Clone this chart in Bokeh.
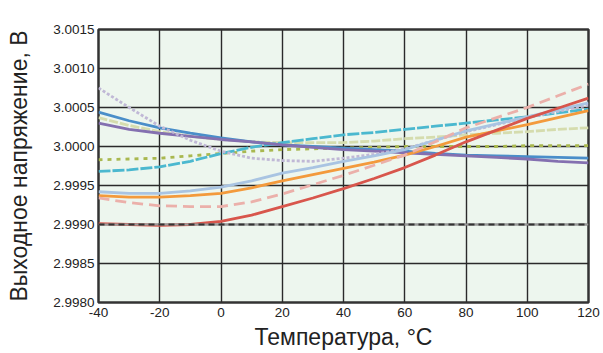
from bokeh.plotting import figure
from bokeh.models import FixedTicker, PrintfTickFormatter, Range1d, Span
from bokeh.embed import file_html
from bokeh.resources import INLINE

temps = [-40, -30, -20, -10, 0, 10, 20, 30, 40, 50, 60, 70, 80, 90, 100, 110, 120]

red = [2.99901, 2.99900, 2.99899, 2.99900, 2.99904, 2.99912, 2.99923, 2.99934, 2.99946,
       2.99959, 2.99973, 2.99989, 3.00006, 3.00021, 3.00036, 3.00049, 3.00062]
pink = [2.99934, 2.99928, 2.99924, 2.99923, 2.99923, 2.99929, 2.99939, 2.99951, 2.99963,
        2.99976, 2.99989, 3.00006, 3.00024, 3.00037, 3.00050, 3.00065, 3.00080]
orange = [2.99937, 2.99935, 2.99935, 2.99937, 2.99940, 2.99947, 2.99956, 2.99964, 2.99972,
          2.99980, 2.99989, 3.00000, 3.00012, 3.00020, 3.00028, 3.00037, 3.00046]
lightblue = [2.99942, 2.99940, 2.99940, 2.99943, 2.99948, 2.99956, 2.99966, 2.99973, 2.99981,
             2.99988, 2.99996, 3.00008, 3.00020, 3.00029, 3.00038, 3.00047, 3.00056]
lavender = [3.00075, 3.00050, 3.00026, 3.00008, 2.99994, 2.99985, 2.99982, 2.99981, 2.99985,
            2.99990, 2.99997, 3.00008, 3.00019, 3.00028, 3.00037, 3.00045, 3.00053]
cyan = [2.99968, 2.99970, 2.99974, 2.99981, 2.99991, 2.99999, 3.00005, 3.00010, 3.00015,
        3.00018, 3.00022, 3.00026, 3.00030, 3.00034, 3.00038, 3.00043, 3.00048]
paleolive = [3.00037, 3.00027, 3.00019, 3.00013, 3.00009, 3.00006, 3.00005, 3.00005, 3.00005,
             3.00007, 3.00010, 3.00012, 3.00015, 3.00017, 3.00019, 3.00022, 3.00024]
olive = [2.99983, 2.99984, 2.99985, 2.99988, 2.99991, 2.99994, 2.99996, 2.99997, 2.99998,
         2.99999, 3.00000, 3.00000, 3.00000, 3.00000, 3.00001, 3.00001, 3.00001]
blue = [3.00044, 3.00033, 3.00024, 3.00017, 3.00011, 3.00006, 3.00002, 3.00000, 2.99998,
        2.99996, 2.99994, 2.99991, 2.99989, 2.99988, 2.99987, 2.99986, 2.99985]
purple = [3.00030, 3.00022, 3.00017, 3.00013, 3.00009, 3.00006, 3.00002, 2.99999, 2.99996,
          2.99994, 2.99992, 2.99990, 2.99988, 2.99986, 2.99984, 2.99981, 2.99979]

x_ticks = [-40, -20, 0, 20, 40, 60, 80, 100, 120]
x_tick_labels = ["-40", "-20", "0", "20", "40", "60", "80", "100", "120"]
y_ticks = [2.9980, 2.9985, 2.9990, 2.9995, 3.0000, 3.0005, 3.0010, 3.0015]
ref_level = 2.9990

x_label = "Температура, °C"
y_label = "Выходное напряжение, В"

p = figure(width=603, height=353, output_backend="svg", toolbar_location=None,
           x_range=Range1d(-40, 120), y_range=Range1d(2.9980, 3.0015),
           min_border_left=98, min_border_right=15, min_border_top=29, min_border_bottom=51)

p.background_fill_color = "#edf6ee"
p.border_fill_color = "white"
p.outline_line_color = "#333333"
p.outline_line_width = 2.5

p.xgrid.grid_line_color = "#2a2a2a"
p.ygrid.grid_line_color = "#2a2a2a"
p.xgrid.grid_line_width = 1.4
p.ygrid.grid_line_width = 1.4

p.xaxis.ticker = FixedTicker(ticks=x_ticks)
p.xaxis.major_label_overrides = dict(zip(x_ticks, x_tick_labels))
p.yaxis.ticker = FixedTicker(ticks=y_ticks)
p.yaxis.formatter = PrintfTickFormatter(format="%.4f")

for ax in (p.xaxis[0], p.yaxis[0]):
    ax.axis_line_color = None
    ax.major_tick_line_color = None
    ax.minor_tick_line_color = None
    ax.major_tick_in = 0
    ax.major_tick_out = 0
    ax.minor_tick_in = 0
    ax.minor_tick_out = 0
    ax.major_label_text_font = "Liberation Sans"
    ax.major_label_text_font_size = "13.5px"
    ax.major_label_text_color = "#222222"
    ax.axis_label_text_font = "Liberation Sans"
    ax.axis_label_text_font_size = "23px"
    ax.axis_label_text_font_style = "normal"
    ax.axis_label_text_color = "#222222"

p.xaxis.axis_label = x_label
p.yaxis.axis_label = y_label
p.xaxis.major_label_standoff = 5
p.yaxis.major_label_standoff = 4
p.xaxis.axis_label_standoff = 4
p.yaxis.axis_label_standoff = 18

p.add_layout(Span(location=ref_level, dimension="width", line_color="#9a9a9a", line_width=2))
p.add_layout(Span(location=ref_level, dimension="width", line_color="#333333", line_width=2,
                  line_dash="6 4"))

lw = 2.8
p.line(temps, olive, line_color="#a9b84f", line_width=lw, line_dash="4 5")
p.line(temps, paleolive, line_color="#d5dcae", line_width=lw, line_dash="9 2")
p.line(temps, cyan, line_color="#4bb8cf", line_width=lw, line_dash="12 2")
p.line(temps, blue, line_color="#4a8ec9", line_width=lw)
p.line(temps, purple, line_color="#8470b0", line_width=lw)
p.line(temps, lavender, line_color="#c0b8d6", line_width=lw, line_dash="3 2")
p.line(temps, lightblue, line_color="#a9c4e2", line_width=lw)
p.line(temps, orange, line_color="#f39a3c", line_width=lw)
p.line(temps, pink, line_color="#ebb0aa", line_width=lw, line_dash="11 6")
p.line(temps, red, line_color="#d8564c", line_width=lw)

open("out.html", "w").write(file_html(p, INLINE))
